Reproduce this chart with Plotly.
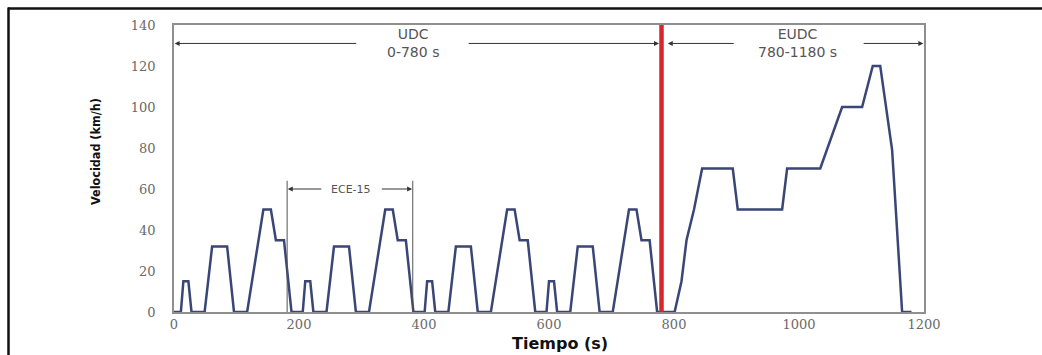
import plotly.graph_objects as go

# NEDC driving cycle: breakpoints (time in s, speed in km/h)
tiempo = [
    0, 11, 15, 23, 28, 49, 61, 85, 96, 117, 143, 155, 163, 176, 188,
    206, 210, 218, 223, 244, 256, 280, 291, 312, 338, 350, 358, 371, 383,
    401, 405, 413, 418, 439, 451, 475, 486, 507, 533, 545, 553, 566, 578,
    596, 600, 608, 613, 634, 646, 670, 681, 702, 728, 740, 748, 761, 773,
    801, 812, 820, 832, 845, 894, 902, 973, 981, 1034, 1069, 1101, 1118,
    1130, 1149, 1165, 1180,
]
velocidad = [
    0, 0, 15, 15, 0, 0, 32, 32, 0, 0, 50, 50, 35, 35, 0,
    0, 15, 15, 0, 0, 32, 32, 0, 0, 50, 50, 35, 35, 0,
    0, 15, 15, 0, 0, 32, 32, 0, 0, 50, 50, 35, 35, 0,
    0, 15, 15, 0, 0, 32, 32, 0, 0, 50, 50, 35, 35, 0,
    0, 15, 35, 50, 70, 70, 50, 50, 70, 70, 100, 100, 120,
    120, 79, 0, 0,
]

x_ticks = [0, 200, 400, 600, 800, 1000, 1200]
y_ticks = [0, 20, 40, 60, 80, 100, 120, 140]

# Phase markers
limite_udc = 780
ece_inicio, ece_fin = 181, 382

W, H = 1042, 355
L, R, T, B = 174, 118, 25, 43
pw, ph = W - L - R, H - T - B


def px_x(px):
    return (px - L) / pw


def px_y(py):
    return (H - B - py) / ph


fig = go.Figure()
fig.add_trace(go.Scatter(
    x=tiempo, y=velocidad, mode="lines",
    line=dict(color="#3a4676", width=2.5),
    showlegend=False, hoverinfo="skip",
))

arrow_col = "#333333"
shapes = [
    # UDC / EUDC boundary
    dict(type="line", xref="x", yref="y", x0=limite_udc, x1=limite_udc, y0=0, y1=140,
         line=dict(color="#d8262c", width=4.5), layer="above"),
    # ECE-15 bracket verticals
    dict(type="line", xref="x", yref="y", x0=ece_inicio, x1=ece_inicio, y0=0, y1=64,
         line=dict(color="#555555", width=1)),
    dict(type="line", xref="x", yref="y", x0=ece_fin, x1=ece_fin, y0=0, y1=64,
         line=dict(color="#555555", width=1)),
    # outer frame (top and left edges)
    dict(type="line", xref="paper", yref="paper", x0=px_x(8), x1=px_x(W + 5),
         y0=px_y(8.5), y1=px_y(8.5), line=dict(color="#111111", width=2.5)),
    dict(type="line", xref="paper", yref="paper", x0=px_x(8.5), x1=px_x(8.5),
         y0=px_y(7.5), y1=px_y(H + 5), line=dict(color="#111111", width=2.5)),
]


def flecha(x_tip, x_tail, y):
    return dict(x=x_tip, y=y, ax=x_tail, ay=y, xref="x", yref="y", axref="x", ayref="y",
                text="", showarrow=True, arrowhead=2, arrowsize=1, arrowwidth=1,
                arrowcolor=arrow_col, standoff=0, startstandoff=0)


annotations = [
    flecha(1, 294, 131), flecha(776, 469, 131),
    flecha(790, 898, 131), flecha(1199, 1101, 131),
    flecha(ece_inicio + 1, 238, 60), flecha(ece_fin - 1, 330, 60),
    dict(x=382, y=131, xref="x", yref="y", text="UDC<br>0-780 s", showarrow=False,
         font=dict(family="DejaVu Sans", size=14, color="#555555"), align="center"),
    dict(x=998, y=131, xref="x", yref="y", text="EUDC<br>780-1180 s", showarrow=False,
         font=dict(family="DejaVu Sans", size=14, color="#555555"), align="center"),
    dict(x=283, y=60, xref="x", yref="y", text="ECE-15", showarrow=False,
         font=dict(family="DejaVu Sans", size=11, color="#555555")),
    dict(x=px_x(95), y=px_y(152), xref="paper", yref="paper", text="<b>Velocidad (km/h)</b>",
         textangle=-90, showarrow=False, xanchor="center", yanchor="middle",
         font=dict(family="DejaVu Sans Condensed, Liberation Sans Narrow, DejaVu Sans",
                   size=12.5, color="#111111")),
    dict(x=px_x(560), y=px_y(343), xref="paper", yref="paper", text="<b>Tiempo (s)</b>",
         showarrow=False, xanchor="center", yanchor="middle",
         font=dict(family="DejaVu Sans", size=16, color="#111111")),
]

tick_font = dict(family="DejaVu Serif", size=13, color="#6a6a6a")
fig.update_layout(
    width=W, height=H,
    margin=dict(l=L, r=R, t=T, b=B, pad=0),
    paper_bgcolor="white", plot_bgcolor="white",
    xaxis=dict(range=[0, 1200], tickvals=x_ticks, ticktext=[str(v) for v in x_ticks],
               showgrid=False, zeroline=False, showline=True, mirror=True,
               linecolor="#8f8f8f", linewidth=1.5, ticks="", tickfont=tick_font,
               ticklabelstandoff=0),
    yaxis=dict(range=[0, 140], tickvals=y_ticks, ticktext=[str(v) for v in y_ticks],
               showgrid=False, zeroline=False, showline=True, mirror=True,
               linecolor="#8f8f8f", linewidth=1.5, ticks="", tickfont=tick_font,
               ticklabelstandoff=14),
    shapes=shapes, annotations=annotations,
)

fig.write_html("out.html")
